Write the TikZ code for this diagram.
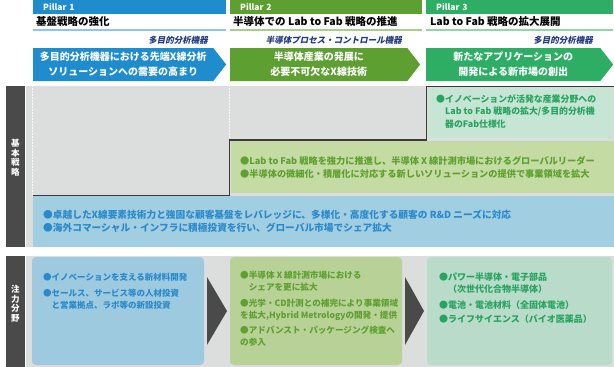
\documentclass[tikz,border=0pt]{standalone}
\usepackage{fontspec}
\setmainfont{Noto Sans CJK JP}
\newfontfamily\slantjp{Noto Sans CJK JP}[FakeSlant=0.2]
\usepackage{xcolor}
\usepackage{tikz}
\usetikzlibrary{positioning,shapes.symbols}

\definecolor{p1col}{HTML}{1E8CCD}
\definecolor{p2col}{HTML}{5E9F32}
\definecolor{p3col}{HTML}{2DAE64}
\definecolor{p1line}{HTML}{8FC6E8}
\definecolor{p2line}{HTML}{AACD8C}
\definecolor{p3line}{HTML}{92D4B0}
\definecolor{navy}{HTML}{1F3A7E}
\definecolor{graybg}{HTML}{DCDDDD}
\definecolor{tabcol}{HTML}{4A4A4A}
\definecolor{stepcol}{HTML}{3A3A3A}
\definecolor{bluebg}{HTML}{A2CEE2}
\definecolor{bluetxt}{HTML}{2B8ACB}
\definecolor{greenbg}{HTML}{C5DBA4}
\definecolor{greentxt}{HTML}{5EA12F}
\definecolor{mintbg}{HTML}{C7E5D5}
\definecolor{minttxt}{HTML}{27A45E}
\definecolor{bluebox}{HTML}{9DCADF}
\definecolor{greenbox}{HTML}{B7D197}
\definecolor{mintbox}{HTML}{B9DBC9}

\begin{document}
\begin{tikzpicture}[
  x=1pt, y=-1pt,
  bar/.style={anchor=north west, minimum height=14, inner xsep=10, inner ysep=0, align=left, text=white, font=\bfseries\fontsize{8.5}{10}\selectfont},
  ttl/.style={anchor=west, inner sep=0, font=\bfseries\fontsize{10.5}{12}\selectfont},
  sub/.style={anchor=east, inner sep=0, text=navy, font=\slantjp\bfseries\fontsize{8.5}{10}\selectfont},
  sig/.style={signal, signal to=east, signal pointer angle=104, anchor=west, minimum height=33, inner sep=0, text=white, align=center, font=\bfseries\fontsize{10}{15}\selectfont},
  area/.style={anchor=north west, inner sep=0, outer sep=0},
  tab/.style={area, fill=tabcol, minimum width=19},
  tabtxt/.style={inner sep=0, align=center, text=white, font=\bfseries\fontsize{8.5}{9.5}\selectfont},
  focus/.style={area, rounded corners=4, minimum height=108},
  txt/.style={anchor=north west, inner sep=0, align=left, font=\bfseries\fontsize{9.7}{13}\selectfont},
  small/.style={txt, font=\bfseries\fontsize{8.7}{12}\selectfont},
  uline/.style={line width=1.5},
  stepline/.style={draw=stepcol, line width=1.4},
  grid/.style={draw=white!80!graybg, densely dotted, line width=0.5}
]
\useasboundingbox (0,0) rectangle (614,367);

\node[bar, fill=p1col, text width=173] (bar1) at (33,0) {Pillar 1};
\node[bar, fill=p2col, text width=172] (bar2) at (230,0) {Pillar 2};
\node[bar, fill=p3col, text width=167] (bar3) at (426,0) {Pillar 3};
\node[ttl] (ttl1) at (36,22) {基盤戦略の強化};
\node[ttl] (ttl2) at (233,22) {半導体での Lab to Fab 戦略の推進};
\node[ttl] (ttl3) at (430,22) {Lab to Fab 戦略の拡大展開};
\draw[uline, p1line] (33,30) -- (226,30);
\draw[uline, p2line] (230,30) -- (422,30);
\draw[uline, p3line] (426,30) -- (613,30);
\node[sub] (sub1) at (208,40) {多目的分析機器};
\node[sub] (sub2) at (402,40) {半導体プロセス・コントロール機器};
\node[sub] (sub3) at (593,40) {多目的分析機器};
\node[sig, fill=p1col, minimum width=193] (arr1) at (33,64.5) {多目的分析機器における先端X線分析\\ソリューションへの需要の高まり};
\node[sig, fill=p2col, minimum width=190] (arr2) at (230,64.5) {半導体産業の発展に\\必要不可欠なX線技術};
\node[sig, fill=p3col, minimum width=187] (arr3) at (426,64.5) {新たなアプリケーションの\\開発による新市場の創出};

\node[area, fill=graybg, minimum width=588, minimum height=161] (bg1) at (26,86) {};
\node[tab, minimum height=161] (tab1) at (6,86) {};
\node[tabtxt] (tabt1) at (15.5,158) {基\\本\\戦\\略};
\draw[grid] (32.5,86) -- (32.5,195);
\draw[grid] (229.5,86) -- (229.5,140);
\node[area, fill=bluebg, minimum width=581, minimum height=51] (lay1) at (33,196) {};
\node[area, fill=greenbg, minimum width=383, minimum height=52] (lay2) at (231,141) {};
\node[area, fill=mintbg, minimum width=185, minimum height=51] (lay3) at (428,87) {};
\draw[stepline] (33,195.3) -- (229.5,195.3) -- (229.5,140) -- (426.5,140) -- (426.5,86.5) -- (614,86.5);
\node[txt, text=bluetxt] (st1) at (43,209.5) {●卓越したX線要素技術力と強固な顧客基盤をレバレッジに、多様化・高度化する顧客の R\&D ニーズに対応\\●海外コマーシャル・インフラに積極投資を行い、グローバル市場でシェア拡大};
\node[txt, text=greentxt, font=\bfseries\fontsize{9.2}{13}\selectfont] (st2) at (240,156.5) {●Lab to Fab 戦略を強力に推進し、半導体 X 線計測市場におけるグローバルリーダー\\●半導体の微細化・積層化に対応する新しいソリューションの提供で事業領域を拡大};
\node[txt, text=minttxt, font=\bfseries\fontsize{8.9}{12.5}\selectfont] (st3) at (436,94) {●イノベーションが活発な産業分野への\\　Lab to Fab 戦略の拡大/多目的分析機\\　器のFab仕様化};

\node[area, fill=graybg, minimum width=588, minimum height=111] (bg2) at (26,256) {};
\node[tab, minimum height=111] (tab2) at (6,256) {};
\node[tabtxt] (tabt2) at (15.5,304) {注\\力\\分\\野};
\node[focus, fill=bluebox, minimum width=172] (foc1) at (32,257) {};
\node[focus, fill=greenbox, minimum width=172] (foc2) at (230,257) {};
\node[focus, fill=mintbox, minimum width=185] (foc3) at (427,257) {};
\fill[tabcol] ([xshift=3]foc1.east) ++(0,-34) -- ++(20,34) -- ++(-20,34) -- cycle;
\fill[tabcol] ([xshift=3]foc2.east) ++(0,-34) -- ++(19,34) -- ++(-19,34) -- cycle;
\node[small, text=bluetxt, font=\bfseries\fontsize{8.5}{12}\selectfont] (f1) at (43,273) {●イノベーションを支える新材料開発\\[4pt]●セールス、サービス等の人材投資\\　と営業拠点、ラボ等の新設投資};
\node[small, text=greentxt, font=\bfseries\fontsize{8.6}{11.5}\selectfont] (f2) at (240,271) {●半導体 X 線計測市場における\\　シェアを更に拡大\\[5pt]●光学・CD計測との補完により事業領域\\を拡大,Hybrid Metrologyの開発・提供\\[4pt]●アドバンスト・パッケージング検査へ\\の参入};
\node[small, text=minttxt, font=\bfseries\fontsize{9}{11.5}\selectfont] (f3) at (439,273) {●パワー半導体・電子部品\\　（次世代化合物半導体）\\[5pt]●電池・電池材料（全固体電池）\\[2.5pt]●ライフサイエンス（バイオ医薬品）};
\end{tikzpicture}
\end{document}
